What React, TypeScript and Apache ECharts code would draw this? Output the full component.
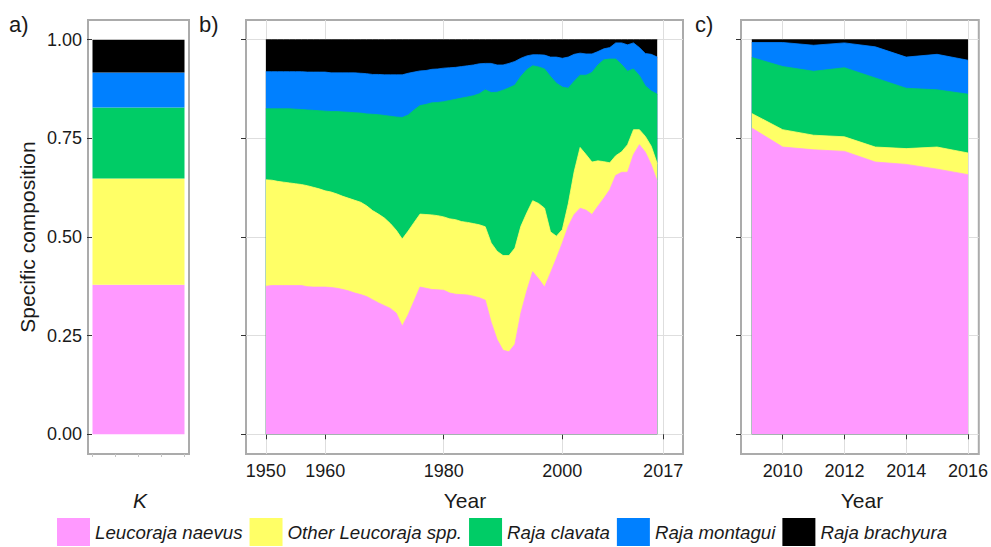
import { useEffect, useRef } from "react";
import * as echarts from "echarts";

const FONT = "'Liberation Sans', Arial, Helvetica, sans-serif";

const SPECIES = ["Leucoraja naevus", "Other Leucoraja spp.", "Raja clavata", "Raja montagui", "Raja brachyura"];
const COLORS = ["#FF99FF", "#FFFF66", "#00CC66", "#0080FF", "#000000"];

// a) overall composition (K)
const K_SHARES = [0.379, 0.269, 0.18, 0.089, 0.083];

// b) yearly composition 1950–2016
const FIRST_YEAR_B = 1950;
const NAEVUS_B = [
  0.375, 0.377, 0.377, 0.377, 0.377, 0.377, 0.377, 0.374, 0.373, 0.373,
  0.373, 0.372, 0.370, 0.367, 0.363, 0.358, 0.354, 0.349, 0.341, 0.333,
  0.326, 0.319, 0.307, 0.274, 0.303, 0.338, 0.373, 0.370, 0.367, 0.366,
  0.365, 0.358, 0.355, 0.354, 0.353, 0.350, 0.346, 0.340, 0.284, 0.240,
  0.213, 0.209, 0.228, 0.307, 0.363, 0.412, 0.394, 0.373, 0.409, 0.446,
  0.485, 0.527, 0.557, 0.573, 0.568, 0.557, 0.578, 0.598, 0.620, 0.656,
  0.664, 0.664, 0.709, 0.734, 0.715, 0.683, 0.641,
];
const OTHER_B = [
  0.270, 0.267, 0.264, 0.262, 0.260, 0.258, 0.256, 0.256, 0.253, 0.249,
  0.244, 0.242, 0.239, 0.236, 0.235, 0.235, 0.234, 0.230, 0.226, 0.225,
  0.222, 0.215, 0.210, 0.221, 0.212, 0.199, 0.185, 0.187, 0.189, 0.188,
  0.186, 0.188, 0.189, 0.185, 0.184, 0.184, 0.185, 0.186, 0.201, 0.224,
  0.240, 0.244, 0.244, 0.220, 0.198, 0.180, 0.191, 0.200, 0.104, 0.056,
  0.034, 0.057, 0.109, 0.154, 0.141, 0.133, 0.115, 0.093, 0.068, 0.050,
  0.052, 0.070, 0.063, 0.038, 0.040, 0.047, 0.045,
];
const CLAVATA_B = [
  0.180, 0.181, 0.184, 0.186, 0.188, 0.189, 0.190, 0.192, 0.195, 0.198,
  0.202, 0.204, 0.209, 0.214, 0.218, 0.222, 0.226, 0.233, 0.244, 0.252,
  0.260, 0.272, 0.287, 0.308, 0.294, 0.285, 0.275, 0.279, 0.284, 0.287,
  0.292, 0.300, 0.305, 0.313, 0.318, 0.324, 0.332, 0.347, 0.381, 0.403,
  0.419, 0.425, 0.413, 0.380, 0.363, 0.342, 0.346, 0.353, 0.394, 0.388,
  0.361, 0.293, 0.229, 0.183, 0.201, 0.227, 0.243, 0.258, 0.263, 0.245,
  0.221, 0.186, 0.154, 0.137, 0.128, 0.140, 0.176,
];
const MONTAGUI_B = [
  0.094, 0.094, 0.094, 0.094, 0.094, 0.095, 0.096, 0.096, 0.097, 0.098,
  0.099, 0.098, 0.098, 0.099, 0.100, 0.101, 0.101, 0.102, 0.101, 0.102,
  0.103, 0.105, 0.107, 0.108, 0.106, 0.096, 0.088, 0.086, 0.085, 0.085,
  0.085, 0.083, 0.081, 0.080, 0.079, 0.078, 0.076, 0.067, 0.074, 0.069,
  0.064, 0.062, 0.060, 0.046, 0.035, 0.028, 0.031, 0.035, 0.049, 0.066,
  0.073, 0.079, 0.068, 0.056, 0.054, 0.047, 0.034, 0.028, 0.029, 0.041,
  0.055, 0.067, 0.066, 0.071, 0.082, 0.093, 0.094,
];
const BRACHYURA_B = [
  0.081, 0.081, 0.081, 0.081, 0.081, 0.081, 0.081, 0.082, 0.082, 0.082,
  0.082, 0.084, 0.084, 0.084, 0.084, 0.084, 0.085, 0.086, 0.088, 0.088,
  0.089, 0.089, 0.089, 0.089, 0.085, 0.082, 0.079, 0.078, 0.075, 0.074,
  0.072, 0.071, 0.070, 0.068, 0.066, 0.064, 0.061, 0.060, 0.060, 0.064,
  0.064, 0.060, 0.055, 0.047, 0.041, 0.038, 0.038, 0.039, 0.044, 0.044,
  0.047, 0.044, 0.037, 0.034, 0.036, 0.036, 0.030, 0.023, 0.020, 0.008,
  0.008, 0.013, 0.008, 0.020, 0.035, 0.037, 0.044,
];
const TICKS_B = [1950, 1960, 1980, 2000, 2017];

// c) recent composition 2009–2016
const YEARS_C = [2009, 2010, 2011, 2012, 2013, 2014, 2015, 2016];
const NAEVUS_C = [0.776, 0.728, 0.721, 0.717, 0.690, 0.684, 0.672, 0.658];
const OTHER_C = [0.037, 0.044, 0.037, 0.037, 0.038, 0.040, 0.056, 0.055];
const CLAVATA_C = [0.142, 0.160, 0.162, 0.175, 0.175, 0.153, 0.145, 0.149];
const MONTAGUI_C = [0.038, 0.061, 0.066, 0.063, 0.079, 0.079, 0.090, 0.086];
const BRACHYURA_C = [0.007, 0.007, 0.014, 0.008, 0.018, 0.044, 0.037, 0.052];
const TICKS_C = [2010, 2012, 2014, 2016];

const Y_TICKS = [0, 0.25, 0.5, 0.75, 1];

const YEARS_B = NAEVUS_B.map((_, i) => FIRST_YEAR_B + i);
const SERIES_B = [NAEVUS_B, OTHER_B, CLAVATA_B, MONTAGUI_B, BRACHYURA_B];
const SERIES_C = [NAEVUS_C, OTHER_C, CLAVATA_C, MONTAGUI_C, BRACHYURA_C];

const TEXT = "#1a1a1a";
const FRAME = "#ababab";
const GRIDLINE = "#dedede";

// Running totals: layer k's upper edge is the sum of shares 0..k.
function cumulative(sets: number[][]): number[][] {
  return sets.map((_, k) =>
    sets[0].map((__, i) => {
      let s = 0;
      for (let j = 0; j <= k; j++) s += sets[j][i];
      return s;
    })
  );
}

function yAxisFor(gridIndex: number, showLabels: boolean) {
  return {
    type: "value",
    gridIndex,
    min: -0.05,
    max: 1.05,
    axisLine: { show: false },
    axisTick: { show: true, customValues: Y_TICKS, length: 5, lineStyle: { color: "#333", width: 1 } },
    axisLabel: {
      show: showLabels,
      customValues: Y_TICKS,
      formatter: (v: number) => v.toFixed(2),
      fontSize: 18,
      fontFamily: FONT,
      color: TEXT,
      margin: 6,
    },
    splitLine: showLabels
      ? { show: false }
      : { show: true, lineStyle: { color: GRIDLINE, width: 1 } },
  };
}

function yearAxis(gridIndex: number, min: number, max: number, ticks: number[]) {
  return {
    type: "value",
    gridIndex,
    min,
    max,
    axisLine: { show: false },
    axisTick: { show: true, customValues: ticks, length: 5, lineStyle: { color: "#333", width: 1 } },
    axisLabel: {
      customValues: ticks,
      formatter: (v: number) => String(v),
      fontSize: 18,
      fontFamily: FONT,
      color: TEXT,
      margin: 8,
    },
    splitLine: { show: true, lineStyle: { color: GRIDLINE, width: 1 } },
  };
}

// Each layer is filled from its running total down to zero; drawing the
// top layer first lets every lower layer paint over it.
function areaSeries(years: number[], sets: number[][], axisIndex: number) {
  const totals = cumulative(sets);
  const out: any[] = [];
  for (let k = sets.length - 1; k >= 0; k--) {
    out.push({
      type: "line",
      name: SPECIES[k],
      xAxisIndex: axisIndex,
      yAxisIndex: axisIndex,
      symbol: "none",
      showSymbol: false,
      smooth: false,
      data: years.map((y, i) => [y, totals[k][i]]),
      lineStyle: { color: COLORS[k], width: 0.8 },
      itemStyle: { color: COLORS[k] },
      areaStyle: { color: COLORS[k], opacity: 1, origin: 0 },
      emphasis: { disabled: true },
    });
  }
  return out;
}

export default function App() {
  const ref = useRef<HTMLDivElement>(null);

  useEffect(() => {
    if (!ref.current) return;
    const chart = echarts.init(ref.current, null, { renderer: "svg" });

    const frame = { show: true, borderColor: FRAME, borderWidth: 2, backgroundColor: "#ffffff" };
    const label = (text: string, x: number, y: number, extra: any = {}) => ({
      type: "text",
      x,
      y,
      ...extra,
      style: {
        text,
        fontSize: 21,
        fontFamily: FONT,
        fill: TEXT,
        align: "center",
        verticalAlign: "middle",
        ...(extra.style || {}),
      },
    });

    const option: any = {
      animation: false,
      backgroundColor: "#ffffff",
      textStyle: { fontFamily: FONT },
      grid: [
        { left: 88, top: 20, width: 101, height: 434, ...frame },
        { left: 246, top: 20, width: 437, height: 434, ...frame },
        { left: 741, top: 20, width: 241, height: 434, ...frame },
      ],
      xAxis: [
        {
          // single-category axis carrying the stacked bar
          type: "category",
          gridIndex: 0,
          data: ["K"],
          axisLine: { show: false },
          axisTick: { show: false },
          axisLabel: { show: false },
          splitLine: { show: false },
        },
        yearAxis(1, 1946.65, 2020.35, TICKS_B),
        yearAxis(2, 2008.65, 2016.35, TICKS_C),
        {
          // small ticks under the bar
          type: "value",
          gridIndex: 0,
          position: "bottom",
          min: -4 / 23,
          max: 4 + 5 / 23,
          axisLine: { show: false },
          axisTick: { show: true, customValues: [0, 1, 2, 3, 4], length: 3, lineStyle: { color: "#c4c4c4" } },
          axisLabel: { show: false },
          splitLine: { show: false },
        },
      ],
      yAxis: [yAxisFor(0, true), yAxisFor(1, false), yAxisFor(2, false)],
      legend: {
        data: SPECIES,
        left: 57,
        top: 518,
        padding: 0,
        itemWidth: 33,
        itemHeight: 28,
        itemGap: 7,
        icon: "rect",
        selectedMode: false,
        textStyle: { fontSize: 18.7, fontStyle: "italic", fontFamily: FONT, color: TEXT },
      },
      series: [
        ...K_SHARES.map((v, k) => ({
          type: "bar",
          name: SPECIES[k],
          stack: "k",
          xAxisIndex: 0,
          yAxisIndex: 0,
          barWidth: 92,
          data: [v],
          itemStyle: { color: COLORS[k] },
          emphasis: { disabled: true },
        })),
        ...areaSeries(YEARS_B, SERIES_B, 1),
        ...areaSeries(YEARS_C, SERIES_C, 2),
      ],
      graphic: [
        label("a)", 9, 24, { style: { fontSize: 22, align: "left" } }),
        label("b)", 199, 24, { style: { fontSize: 22, align: "left" } }),
        label("c)", 695, 24, { style: { fontSize: 22, align: "left" } }),
        label("Specific composition", 27, 237, { rotation: Math.PI / 2 }),
        label("K", 140, 500, { style: { fontStyle: "italic" } }),
        label("Year", 465, 500),
        label("Year", 862, 500),
      ],
    };

    chart.setOption(option);
    return () => chart.dispose();
  }, []);

  return (
    <div
      ref={ref}
      style={{ position: "fixed", left: 0, top: 0, width: 991, height: 547, background: "#fff" }}
    />
  );
}
